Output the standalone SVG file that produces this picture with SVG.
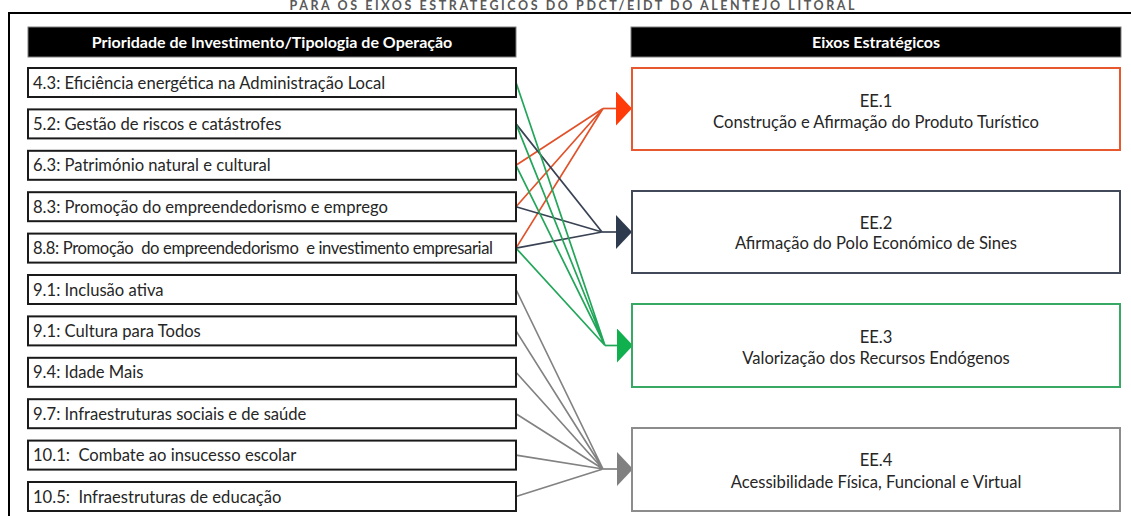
<svg xmlns="http://www.w3.org/2000/svg" width="1131" height="516" viewBox="0 0 1131 516">
<style>
text{font-family:Lato,"Liberation Sans",sans-serif;}
.t{font-size:16.6px;fill:#262626;}
.h{font-size:16px;fill:#ffffff;font-weight:bold;}
.c{text-anchor:middle;}
.lb{fill:#ffffff;stroke:#1a1a1a;stroke-width:2;}
.bar{fill:#000000;stroke:#7f7f7f;stroke-width:1;}
.ln{fill:none;stroke-width:1.7;}
.r{stroke:#E2522A;}
.d{stroke:#3A4354;}
.g{stroke:#22A65A;}
.y{stroke:#828282;}
</style>
<defs>
<marker id="mr" markerUnits="userSpaceOnUse" viewBox="0 0 16 34" refX="16" refY="17" markerWidth="16" markerHeight="34" orient="auto"><path d="M0,0 L16,17 L0,34 Z" fill="#FF3B0A"/></marker>
<marker id="md" markerUnits="userSpaceOnUse" viewBox="0 0 16 34" refX="16" refY="17" markerWidth="16" markerHeight="34" orient="auto"><path d="M0,0 L16,17 L0,34 Z" fill="#2E3A4D"/></marker>
<marker id="mg" markerUnits="userSpaceOnUse" viewBox="0 0 16 34" refX="16" refY="17" markerWidth="16" markerHeight="34" orient="auto"><path d="M0,0 L16,17 L0,34 Z" fill="#10B04E"/></marker>
<marker id="my" markerUnits="userSpaceOnUse" viewBox="0 0 16 34" refX="16" refY="17" markerWidth="16" markerHeight="34" orient="auto"><path d="M0,0 L16,17 L0,34 Z" fill="#808080"/></marker>
</defs>
<rect width="1131" height="516" fill="#ffffff"/>
<text x="572" y="10" class="c" textLength="565" lengthAdjust="spacing" style="font-size:12.5px;font-weight:bold;fill:#595959;">PARA OS EIXOS ESTRATÉGICOS DO PDCT/EIDT DO ALENTEJO LITORAL</text>
<path d="M9,520 V13 H1135" fill="none" stroke="#000" stroke-width="2"/>
<g id="header-left"><rect class="bar" x="28" y="27" width="488" height="30"/><text class="h c" x="272" y="48">Prioridade de Investimento/Tipologia de Operação</text></g>
<g id="header-right"><rect class="bar" x="631" y="27" width="490" height="30"/><text class="h c" x="876" y="48">Eixos Estratégicos</text></g>

<g id="connectors">
<path class="ln r" d="M516,165.3 L603,108.5 M516,206.7 L603,108.5 M516,248.1 L603,108.5"/>
<path class="ln r" d="M603,108.5 H632" marker-end="url(#mr)"/>
<path class="ln d" d="M516,123.9 L602,232 M516,206.7 L602,232 M516,248.1 L602,232"/>
<path class="ln d" d="M602,232 H632" marker-end="url(#md)"/>
<path class="ln g" d="M516,82.5 L605,345.5 M516,123.9 L605,345.5 M516,165.3 L605,345.5 M516,248.1 L605,345.5"/>
<path class="ln g" d="M605,345.5 H633" marker-end="url(#mg)"/>
<path class="ln y" d="M516,289.5 L603,469 M516,330.9 L603,469 M516,372.3 L603,469 M516,413.7 L603,469 M516,455.1 L603,469 M516,496.5 L603,469"/>
<path class="ln y" d="M603,469 H633" marker-end="url(#my)"/>
</g>

<g id="pi-4-3"><rect class="lb" x="28" y="68" width="488" height="29"/><text class="t" x="33" y="88.5">4.3: Eficiência energética na Administração Local</text></g>
<g id="pi-5-2"><rect class="lb" x="28" y="109.4" width="488" height="29"/><text class="t" x="33" y="129.9">5.2: Gestão de riscos e catástrofes</text></g>
<g id="pi-6-3"><rect class="lb" x="28" y="150.8" width="488" height="29"/><text class="t" x="33" y="171.3">6.3: Património natural e cultural</text></g>
<g id="pi-8-3"><rect class="lb" x="28" y="192.2" width="488" height="29"/><text class="t" x="33" y="212.7">8.3: Promoção do empreendedorismo e emprego</text></g>
<g id="pi-8-8"><rect class="lb" x="28" y="233.6" width="488" height="29"/><text class="t" x="33" y="254.1" textLength="460" lengthAdjust="spacing" xml:space="preserve">8.8: Promoção  do empreendedorismo  e investimento empresarial</text></g>
<g id="pi-9-1a"><rect class="lb" x="28" y="275" width="488" height="29"/><text class="t" x="33" y="295.5">9.1: Inclusão ativa</text></g>
<g id="pi-9-1b"><rect class="lb" x="28" y="316.4" width="488" height="29"/><text class="t" x="33" y="336.9">9.1: Cultura para Todos</text></g>
<g id="pi-9-4"><rect class="lb" x="28" y="357.8" width="488" height="29"/><text class="t" x="33" y="378.3">9.4: Idade Mais</text></g>
<g id="pi-9-7"><rect class="lb" x="28" y="399.2" width="488" height="29"/><text class="t" x="33" y="419.7">9.7: Infraestruturas sociais e de saúde</text></g>
<g id="pi-10-1"><rect class="lb" x="28" y="440.6" width="488" height="29"/><text class="t" x="33" y="461.1" xml:space="preserve">10.1:  Combate ao insucesso escolar</text></g>
<g id="pi-10-5"><rect class="lb" x="28" y="482" width="488" height="29"/><text class="t" x="33" y="502.5" xml:space="preserve">10.5:  Infraestruturas de educação</text></g>

<g id="ee1"><rect x="632" y="68" width="488" height="82" fill="#fff" stroke="#E8582E" stroke-width="2"/><text class="t c" x="876" y="107">EE.1</text><text class="t c" x="876" y="128">Construção e Afirmação do Produto Turístico</text></g>
<g id="ee2"><rect x="632" y="191" width="488" height="82" fill="#fff" stroke="#424a5a" stroke-width="2"/><text class="t c" x="876" y="229">EE.2</text><text class="t c" x="876" y="249">Afirmação do Polo Económico de Sines</text></g>
<g id="ee3"><rect x="632" y="304" width="488" height="83" fill="#fff" stroke="#38A865" stroke-width="2"/><text class="t c" x="876" y="343">EE.3</text><text class="t c" x="876" y="364">Valorização dos Recursos Endógenos</text></g>
<g id="ee4"><rect x="632" y="428" width="488" height="83" fill="#fff" stroke="#8C8C8C" stroke-width="2"/><text class="t c" x="876" y="466">EE.4</text><text class="t c" x="876" y="488">Acessibilidade Física, Funcional e Virtual</text></g>
</svg>
